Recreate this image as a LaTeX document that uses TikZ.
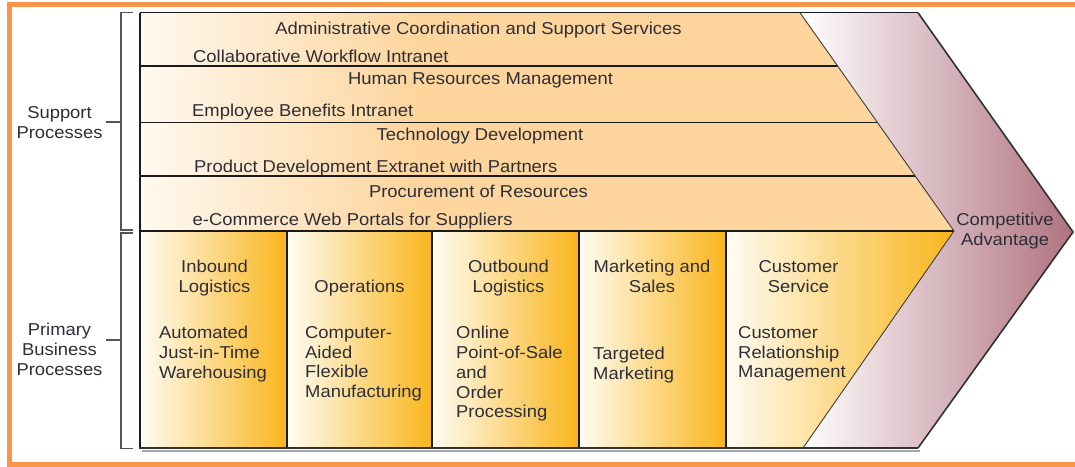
\documentclass[tikz,border=0pt]{standalone}
\usepackage{fontspec}
\setmainfont{Liberation Sans}[FakeStretch=1.07]
\definecolor{frameor}{HTML}{F7964A}
\definecolor{suppL}{HTML}{FFF9F0}
\definecolor{suppR}{HTML}{FDD59D}
\definecolor{colL}{HTML}{FFFCF3}
\definecolor{gold}{HTML}{F9B51B}
\definecolor{mauve}{HTML}{B07280}
\definecolor{txt}{HTML}{2E2E38}
\definecolor{lnc}{HTML}{1A1A1A}
\definecolor{brk}{HTML}{555555}
\pgfdeclarehorizontalshading{suppsh}{100bp}{color(0bp)=(suppL); color(25bp)=(suppL); color(42bp)=(suppR); color(100bp)=(suppR)}
\newcommand{\mainf}{\fontsize{17.2}{19.8}\selectfont}
\tikzset{
  lbl/.style={inner sep=0pt, text=txt, font=\mainf},
  ttl/.style={lbl, anchor=north},
  sub/.style={lbl, anchor=north west, align=left},
  hdr/.style={lbl, anchor=north, align=center},
  side/.style={lbl, align=center, inner xsep=3pt},
  ln/.style={draw=lnc, line width=1.1pt},
  edge/.style={draw=lnc!85, line width=0.9pt},
  outedge/.style={draw=lnc!90, line width=1.6pt},
  brkline/.style={draw=brk, line width=1.2pt},
  colfill/.style={left color=colL, right color=gold}
}
\begin{document}
\begin{tikzpicture}[x=1pt,y=-1pt]
\useasboundingbox (0,0) rectangle (1075,466);
% orange frame (open on the right)
\draw[frameor, line width=5pt] (1075,4.5) -- (9,4.5) -- (9,464.5) -- (1075,464.5);

% support area
\path[shading=suppsh] (140,12.7) -- (800,12.7) -- (954,231) -- (140,231) -- cycle;
% primary columns
\path[colfill] (140,231) rectangle (287,448);
\path[colfill] (287,231) rectangle (432,448);
\path[colfill] (432,231) rectangle (579,448);
\path[colfill] (579,231) rectangle (726,448);
\path[colfill] (726,231) -- (954,231) -- (803,448) -- (726,448) -- cycle;
% competitive advantage band
\path[left color=white, right color=mauve] (800,12.7) -- (918,12.7) -- (1073,232) -- (918,448) -- (803,448) -- (954,231) -- cycle;

% lines
\draw[ln] (140,12.7) -- (918,12.7);
\draw[ln] (140,12.7) -- (140,448);
\draw[ln] (140,66) -- (837.6,66);
\draw[ln] (140,122.7) -- (877.6,122.7);
\draw[ln] (140,176) -- (915.2,176);
\draw[ln] (140,231) -- (954,231);
\draw[ln] (287,231) -- (287,448);
\draw[ln] (432,231) -- (432,448);
\draw[ln] (579,231) -- (579,448);
\draw[ln] (726,231) -- (726,448);
\draw[edge] (800,12.7) -- (954,231) -- (803,448);
\draw[outedge] (918,12.7) -- (1073,232) -- (918,448);
\draw[draw=black!35, line width=1.5pt] (142,450.8) -- (920,450.8);
\draw[draw=lnc!90, line width=2.4pt] (139,448) -- (918,448);

% brackets
\coordinate (sbm) at (121,122);
\coordinate (pbm) at (121,340);
\draw[brkline] (133,12.7) -- (121,12.7) -- (121,230) -- (133,230);
\draw[brkline] (133,233) -- (121,233) -- (121,448.5) -- (133,448.5);

% side labels
\node[side] (suplbl) at (59.5,122.5) {\fontsize{17.2}{21}\selectfont Support\\Processes};
\node[side] (prilbl) at (59.5,349.5) {Primary\\Business\\Processes};
\draw[brkline] (suplbl.east |- sbm) -- (sbm);
\draw[brkline] (prilbl.east |- pbm) -- (pbm);

% support texts
\node[ttl] (t1) at (478.5,21.7) {Administrative Coordination and Support Services};
\node[sub] (s1) at (193,50) {Collaborative Workflow Intranet};
\node[ttl] (t2) at (480.5,72.7) {Human Resources Management};
\node[sub] (s2) at (192,104) {Employee Benefits Intranet};
\node[ttl] (t3) at (480,128) {Technology Development};
\node[sub] (s3) at (194,160) {Product Development Extranet with Partners};
\node[ttl] (t4) at (478.5,185) {Procurement of Resources};
\node[sub] (s4) at (192.5,213) {e-Commerce Web Portals for Suppliers};

% primary texts
\node[hdr] (h1) at (214.5,260) {Inbound\\Logistics};
\node[sub] (b1) at (159,326) {Automated\\Just-in-Time\\Warehousing};
\node[hdr] (h2) at (359.5,280) {Operations};
\node[sub] (b2) at (305,326) {Computer-\\Aided\\Flexible\\Manufacturing};
\node[hdr] (h3) at (508.5,260) {Outbound\\Logistics};
\node[sub] (b3) at (456,326) {Online\\Point-of-Sale\\and\\Order\\Processing};
\node[hdr] (h4) at (652,260) {Marketing and\\Sales};
\node[sub] (b4) at (593,346.7) {Targeted\\Marketing};
\node[hdr] (h5) at (798.5,260) {Customer\\Service};
\node[sub] (b5) at (738,326) {Customer\\Relationship\\Management};

% competitive advantage
\node[hdr] (ca) at (1005,212.7) {Competitive\\Advantage};
\end{tikzpicture}
\end{document}
